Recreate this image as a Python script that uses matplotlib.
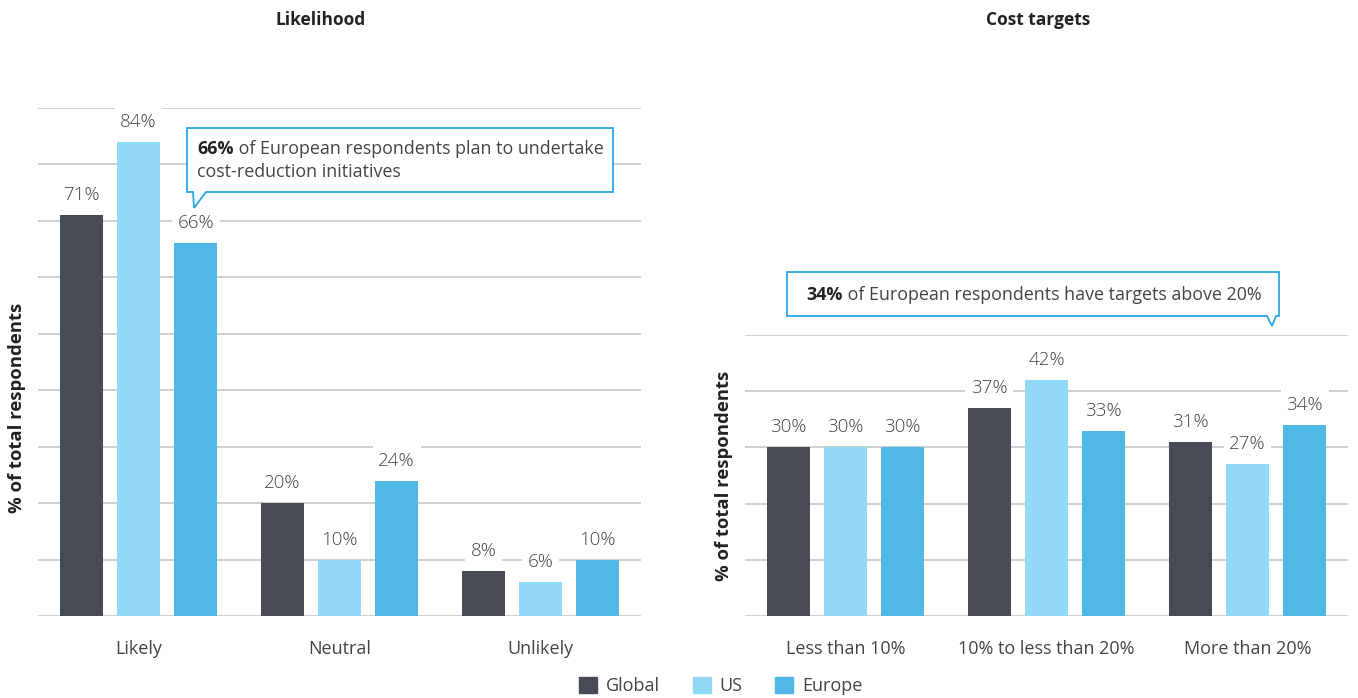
import numpy as np
import matplotlib.pyplot as plt
from matplotlib.patches import Polygon

plt.rcParams['font.family'] = ['Open Sans', 'DejaVu Sans']

series = ['Global', 'US', 'Europe']
colores = ['#474b54', '#92d8f7', '#4fb8e7']

cat_likelihood = ['Likely', 'Neutral', 'Unlikely']
likelihood = {
    'Global': [71, 20, 8],
    'US': [84, 10, 6],
    'Europe': [66, 24, 10],
}

cat_cost = ['Less than 10%', '10% to less than 20%', 'More than 20%']
cost = {
    'Global': [30, 37, 31],
    'US': [30, 42, 27],
    'Europe': [30, 33, 34],
}

W, H = 1358, 698
fig = plt.figure(figsize=(W / 100, H / 100), dpi=100)


def px(x, y):
    # posicion en pixeles (desde arriba a la izquierda) -> fraccion de figura
    return x / W, 1 - y / H


def pintar_barras(ax, categorias, datos, ymax, ylab_y=0.5):
    x = np.arange(len(categorias))
    for i, (s, c) in enumerate(zip(series, colores)):
        vals = datos[s]
        pos = x + (i - 1) * 0.284
        ax.bar(pos, vals, width=0.214, color=c, zorder=3, label=s)
        for xi, v in zip(pos, vals):
            ax.annotate(f'{v}%', (xi, v), xytext=(0, 20), textcoords='offset pixels',
                        ha='center', va='center', fontsize=13.5, fontweight='light',
                        color='#444444', zorder=4,
                        bbox=dict(boxstyle='square,pad=0.3', fc='white', ec='none'))
    ax.set_xlim(-0.5, len(categorias) - 0.5)
    ax.set_ylim(0, ymax)
    ax.set_yticks(np.arange(0, ymax + 1, 10))
    ax.set_yticklabels([])
    ax.tick_params(axis='both', length=0)
    ax.set_xticks(x)
    ax.set_xticklabels(categorias, fontsize=13, color='#444444')
    ax.tick_params(axis='x', pad=17)
    ax.grid(axis='y', color='#cccccc', lw=1.3, zorder=0)
    ax.set_axisbelow(True)
    for sp in ax.spines.values():
        sp.set_visible(False)
    ax.set_ylabel('% of total respondents', fontsize=13.3, fontweight='bold', color='#222222')
    ax.yaxis.set_label_coords(-0.02, ylab_y)


ax1 = fig.add_axes([38 / W, 82 / H, 603 / W, 508 / H])
pintar_barras(ax1, cat_likelihood, likelihood, 90, ylab_y=0.41)

ax2 = fig.add_axes([745 / W, 82 / H, 603 / W, 281 / H])
pintar_barras(ax2, cat_cost, cost, 50)

fig.text(*px(321, 20), 'Likelihood', ha='center', va='center', fontsize=12.5, fontweight='bold', color='#222222')
fig.text(*px(1038, 20), 'Cost targets', ha='center', va='center', fontsize=12.5, fontweight='bold', color='#222222')

borde = '#27a9e1'


def callout(x0, y0, x1, y1, cola):
    pts = [px(x0, y0), px(x1, y0), px(x1, y1)]
    pts += [px(*p) for p in cola]
    pts += [px(x0, y1)]
    fig.patches.append(Polygon(pts, closed=True, transform=fig.transFigure,
                               fc='white', ec=borde, lw=1.3, zorder=5))


callout(187, 128, 613, 192, [(206, 192), (194, 208), (193, 192)])
callout(787, 272, 1279, 316, [(1276, 316), (1272, 326), (1267, 316)])

renderer = fig.canvas.get_renderer()


def texto_mixto(x, y, negrita, resto, ha='left'):
    t1 = fig.text(*px(x, y), negrita, fontsize=12.9, fontweight='bold', color='#222222',
                  va='center', ha='left', zorder=6)
    t2 = fig.text(*px(x, y), resto, fontsize=12.9, color='#444444', va='center', ha='left', zorder=6)
    w1 = t1.get_window_extent(renderer).width
    w2 = t2.get_window_extent(renderer).width
    if ha == 'center':
        x = x - (w1 + w2) / 2
        t1.set_position(px(x, y))
    t2.set_position(px(x + w1, y))


texto_mixto(197, 149, '66%', ' of European respondents plan to undertake')
fig.text(*px(197, 172), 'cost-reduction initiatives', fontsize=12.9, color='#444444', va='center', zorder=6)
texto_mixto(1034, 295, '34%', ' of European respondents have targets above 20%', ha='center')

handles = [plt.Rectangle((0, 0), 1, 1, color=c) for c in colores]
fig.legend(handles, series, loc='center', bbox_to_anchor=px(721, 686), ncol=3, frameon=False,
           fontsize=13, handlelength=1.0, handleheight=1.0, columnspacing=1.8, handletextpad=0.5,
           labelcolor='#444444')

fig.savefig('out.png', dpi=100)
